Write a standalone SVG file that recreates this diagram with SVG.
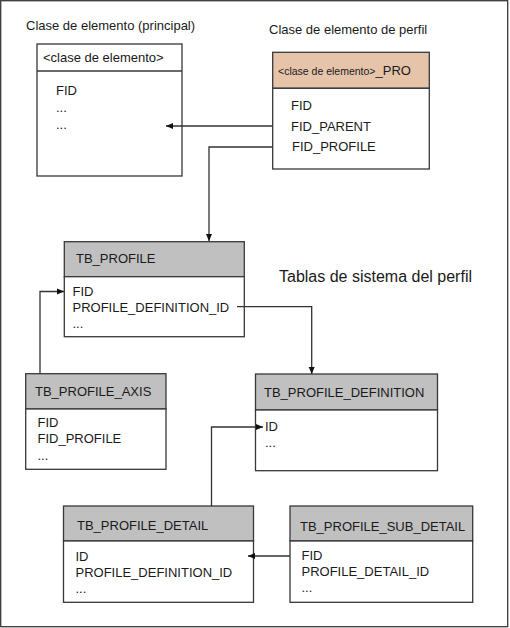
<svg xmlns="http://www.w3.org/2000/svg" width="510" height="628" viewBox="0 0 510 628">
<style>
text{font-family:"Liberation Sans",Arial,sans-serif;font-size:13px;fill:#1a1a1a}
.box{fill:#fff;stroke:#383838;stroke-width:1.3}
.hdr{fill:#c0c0c1;stroke:#383838;stroke-width:1.3}
.pro{fill:#e6c4aa;stroke:#383838;stroke-width:1.3}
.sep{stroke:#383838;stroke-width:1.3}
.con{fill:none;stroke:#333;stroke-width:1.3}
.big{font-size:16px}
.small{font-size:10.5px}
</style>
<defs>
<marker id="arr" markerUnits="userSpaceOnUse" markerWidth="8" markerHeight="8" viewBox="0 0 8 8" refX="7" refY="4" orient="auto">
<path d="M0,1 L7,4 L0,7 Z" fill="#111"/>
</marker>
</defs>
<rect x="0.7" y="0.7" width="507" height="626" fill="#fff" stroke="#383838" stroke-width="1.3"/>
<text x="26" y="30">Clase de elemento (principal)</text>
<text x="269" y="34">Clase de elemento de perfil</text>
<text class="big" x="279" y="282">Tablas de sistema del perfil</text>

<g id="main">
<rect class="box" x="37" y="44" width="145" height="132"/>
<line class="sep" x1="37" y1="71" x2="182" y2="71"/>
<text x="43" y="62">&lt;clase de elemento&gt;</text>
<text x="56" y="95">FID</text>
<text x="56" y="112">...</text>
<text x="56" y="129">...</text>
</g>

<g id="pro">
<rect class="pro" x="272.7" y="52.3" width="156.6" height="36"/>
<rect class="box" x="272.7" y="88.3" width="156.6" height="80.7"/>
<text x="278" y="75"><tspan class="small">&lt;clase de elemento&gt;</tspan>_PRO</text>
<text x="291" y="110">FID</text>
<text x="291" y="131">FID_PARENT</text>
<text x="292" y="151">FID_PROFILE</text>
</g>

<g id="tb_profile">
<rect class="hdr" x="64.3" y="241.7" width="180" height="35"/>
<rect class="box" x="64.3" y="276.7" width="180" height="60"/>
<text x="76" y="263">TB_PROFILE</text>
<text x="72.5" y="295.5">FID</text>
<text x="72.5" y="311.5">PROFILE_DEFINITION_ID</text>
<text x="72.5" y="328">...</text>
</g>

<g id="tb_profile_axis">
<rect class="hdr" x="25.7" y="373.7" width="140.3" height="35.3"/>
<rect class="box" x="25.7" y="409" width="140.3" height="60.3"/>
<text x="35" y="396">TB_PROFILE_AXIS</text>
<text x="37.5" y="427">FID</text>
<text x="37.5" y="443">FID_PROFILE</text>
<text x="37.5" y="459.5">...</text>
</g>

<g id="tb_profile_definition">
<rect class="hdr" x="255.5" y="374" width="182" height="36"/>
<rect class="box" x="255.5" y="410" width="182" height="60.7"/>
<text x="264" y="397">TB_PROFILE_DEFINITION</text>
<text x="265" y="431">ID</text>
<text x="265" y="447">...</text>
</g>

<g id="tb_profile_detail">
<rect class="hdr" x="63.5" y="506" width="190" height="35"/>
<rect class="box" x="63.5" y="541" width="190" height="61.3"/>
<text x="77" y="530">TB_PROFILE_DETAIL</text>
<text x="75.5" y="560.5">ID</text>
<text x="75.5" y="577">PROFILE_DEFINITION_ID</text>
<text x="75.5" y="593">...</text>
</g>

<g id="tb_profile_sub_detail">
<rect class="hdr" x="290" y="506" width="182.7" height="35"/>
<rect class="box" x="290" y="541" width="182.7" height="61.3"/>
<text x="300" y="530.5">TB_PROFILE_SUB_DETAIL</text>
<text x="301.5" y="559.5">FID</text>
<text x="301.5" y="576">PROFILE_DETAIL_ID</text>
<text x="301.5" y="592">...</text>
</g>

<g id="connectors">
<path class="con" d="M272.7,126 L166,126" marker-end="url(#arr)"/>
<path class="con" d="M272.7,147 L209,147 L209,241" marker-end="url(#arr)"/>
<path class="con" d="M40,373.7 L40,291.5 L64,291.5" marker-end="url(#arr)"/>
<path class="con" d="M237,306.7 L311.7,306.7 L311.7,374" marker-end="url(#arr)"/>
<path class="con" d="M211.5,506 L211.5,427 L263,427" marker-end="url(#arr)"/>
<path class="con" d="M290,556 L248,556" marker-end="url(#arr)"/>
</g>
</svg>
